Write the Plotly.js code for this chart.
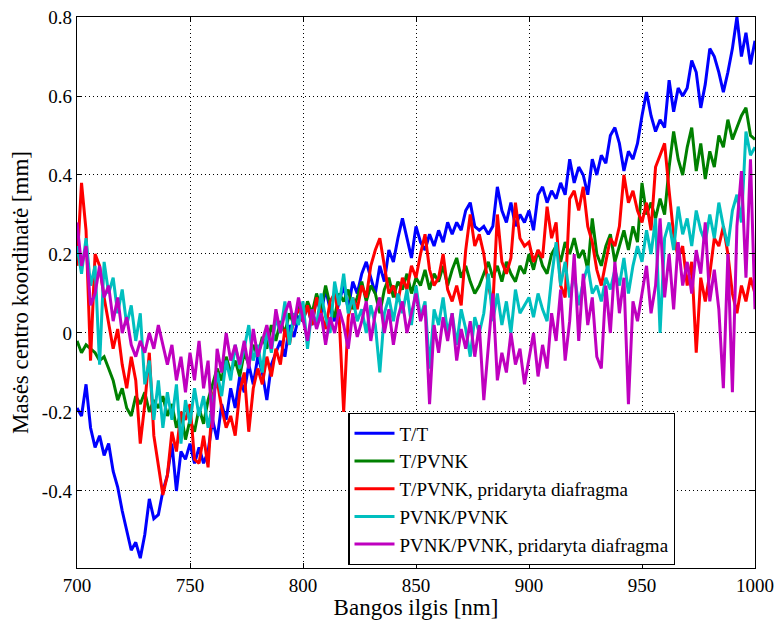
<!DOCTYPE html>
<html>
<head>
<meta charset="utf-8">
<script src="https://cdn.plot.ly/plotly-3.0.1.min.js"></script>
<style>html,body{margin:0;padding:0;background:#fff;}
#chart{width:778px;height:620px;}
</style>
</head>
<body>
<div id="chart"></div>
<script>
// Wavelength grid [nm] (2 nm sampling)
const wavelengthNm = [
  700,702,704,706,708,710,712,714,716,718,
  720,722,724,726,728,730,732,734,736,738,
  740,742,744,746,748,750,752,754,756,758,
  760,762,764,766,768,770,772,774,776,778,
  780,782,784,786,788,790,792,794,796,798,
  800,802,804,806,808,810,812,814,816,818,
  820,822,824,826,828,830,832,834,836,838,
  840,842,844,846,848,850,852,854,856,858,
  860,862,864,866,868,870,872,874,876,878,
  880,882,884,886,888,890,892,894,896,898,
  900,902,904,906,908,910,912,914,916,918,
  920,922,924,926,928,930,932,934,936,938,
  940,942,944,946,948,950,952,954,956,958,
  960,962,964,966,968,970,972,974,976,978,
  980,982,984,986,988,990,992,994,996,998,
  1000
];

// T/T
const seriesTT = [
  -0.19,-0.21,-0.13,-0.24,-0.29,-0.26,-0.31,-0.28,-0.35,-0.39,
  -0.45,-0.50,-0.55,-0.53,-0.57,-0.51,-0.42,-0.47,-0.46,-0.40,
  -0.36,-0.28,-0.40,-0.30,-0.32,-0.28,-0.33,-0.29,-0.33,-0.30,
  -0.22,-0.27,-0.18,-0.22,-0.14,-0.19,-0.11,-0.15,-0.08,-0.13,
  -0.06,-0.10,-0.17,-0.08,-0.05,-0.02,-0.06,0.02,-0.01,0.04,
  0.03,0.07,0.02,0.09,0.05,0.11,0.06,0.03,0.08,0.12,
  0.06,0.13,0.10,0.15,0.18,0.14,0.10,0.17,0.13,0.21,
  0.18,0.24,0.29,0.24,0.19,0.27,0.23,0.21,0.25,0.22,
  0.26,0.23,0.28,0.25,0.28,0.26,0.31,0.33,0.27,0.26,
  0.27,0.25,0.27,0.37,0.31,0.28,0.33,0.27,0.30,0.28,
  0.31,0.26,0.35,0.37,0.33,0.36,0.34,0.38,0.35,0.44,
  0.38,0.42,0.40,0.35,0.44,0.40,0.45,0.43,0.50,0.52,
  0.48,0.41,0.46,0.44,0.48,0.55,0.61,0.55,0.51,0.54,
  0.52,0.64,0.56,0.62,0.60,0.62,0.69,0.66,0.57,0.63,
  0.72,0.70,0.66,0.61,0.66,0.72,0.80,0.70,0.76,0.68,
  0.74
];

// T/PVNK
const seriesTPVNK = [
  -0.02,-0.05,-0.03,-0.04,-0.05,-0.07,-0.06,-0.09,-0.12,-0.17,
  -0.14,-0.19,-0.21,-0.16,-0.18,-0.15,-0.20,-0.17,-0.19,-0.16,
  -0.21,-0.18,-0.24,-0.20,-0.27,-0.22,-0.25,-0.19,-0.23,-0.17,
  -0.13,-0.09,-0.12,-0.06,-0.10,-0.07,-0.11,-0.05,-0.08,-0.03,
  -0.06,-0.01,-0.04,0.02,-0.02,0.03,0.00,0.05,0.02,0.07,
  0.03,0.08,0.05,0.10,0.06,0.12,0.07,0.04,0.10,0.08,
  0.11,0.06,0.09,0.13,0.08,0.12,0.10,0.05,0.11,0.14,
  0.09,0.13,0.11,0.15,0.10,0.14,0.12,0.16,0.11,0.15,
  0.13,0.17,0.12,0.16,0.19,0.14,0.17,0.13,0.10,0.12,
  0.15,0.18,0.14,0.17,0.13,0.18,0.15,0.13,0.17,0.15,
  0.20,0.16,0.21,0.17,0.15,0.20,0.22,0.18,0.23,0.20,
  0.24,0.19,0.21,0.16,0.29,0.20,0.17,0.22,0.25,0.18,
  0.22,0.26,0.21,0.27,0.23,0.38,0.30,0.33,0.29,0.34,
  0.30,0.42,0.51,0.44,0.40,0.47,0.52,0.41,0.48,0.39,
  0.46,0.42,0.50,0.47,0.54,0.49,0.52,0.55,0.57,0.50,
  0.49
];

// T/PVNK, pridaryta diafragma
const seriesTPVNKd = [
  0.17,0.38,0.26,-0.07,0.20,0.17,0.09,0.03,-0.04,0.01,
  -0.08,-0.14,-0.06,-0.12,-0.28,-0.18,-0.05,-0.26,-0.33,-0.41,
  -0.36,-0.25,-0.30,-0.20,-0.22,-0.18,-0.32,-0.33,-0.26,-0.34,
  -0.16,-0.12,-0.19,-0.24,-0.21,-0.26,-0.15,-0.10,-0.25,-0.14,
  -0.09,-0.13,-0.06,-0.11,-0.04,-0.08,0.01,-0.03,0.04,0.06,
  0.03,0.07,0.02,0.09,0.05,0.01,0.08,0.10,0.04,-0.20,
  0.04,0.09,0.06,0.12,0.09,0.17,0.21,0.24,0.17,0.10,
  0.12,0.08,0.14,0.11,0.17,0.14,0.20,0.25,0.16,0.12,
  0.14,0.20,0.11,0.08,0.12,0.07,0.21,0.30,0.22,0.25,
  0.20,0.12,0.07,0.30,0.18,0.15,0.19,0.33,0.24,0.22,
  0.23,0.18,0.21,0.19,0.32,0.24,0.28,0.12,0.09,0.34,
  0.36,0.31,0.37,0.27,0.23,0.16,0.12,0.18,0.24,0.22,
  0.27,0.40,0.33,0.36,0.31,0.28,0.33,0.26,0.42,0.45,
  0.48,0.36,0.25,0.19,0.22,0.12,0.18,-0.05,0.14,0.08,
  0.15,0.24,0.22,0.27,0.20,0.10,0.05,0.12,0.08,0.14,
  0.10
];

// PVNK/PVNK
const seriesPP = [
  0.22,0.15,0.24,0.12,0.17,-0.08,0.18,0.10,0.14,0.05,
  0.11,0.02,0.07,-0.02,0.05,-0.13,-0.07,-0.22,-0.12,-0.24,
  -0.15,-0.22,-0.13,-0.28,-0.17,-0.23,-0.14,-0.21,-0.16,-0.24,
  -0.18,-0.10,-0.16,-0.07,-0.12,-0.03,-0.09,-0.04,0.02,-0.07,
  -0.03,-0.10,0.01,-0.05,0.04,0.00,0.08,-0.03,0.05,0.02,
  0.08,-0.04,0.06,0.02,0.10,0.04,0.00,0.13,0.07,0.15,
  0.05,0.09,0.03,0.06,0.00,0.07,0.02,-0.10,0.05,0.09,
  0.03,0.10,0.05,0.11,0.02,0.12,0.04,0.08,-0.09,0.06,
  0.02,0.09,0.00,0.05,-0.03,0.06,0.01,-0.06,0.04,0.00,
  0.05,0.15,0.03,0.10,0.02,0.08,0.00,0.11,0.05,0.07,
  0.09,0.04,0.10,0.06,0.03,0.14,0.23,0.12,0.18,0.09,
  0.15,0.07,0.13,0.17,0.10,0.12,0.08,0.14,0.11,0.16,
  0.12,0.19,0.10,0.17,0.22,0.18,0.26,0.20,0.29,0.00,
  0.24,0.28,0.21,0.32,0.25,0.29,0.22,0.31,0.26,0.23,
  0.30,0.24,0.33,0.27,0.22,0.31,0.35,0.28,0.51,0.45,
  0.47
];

// PVNK/PVNK, pridaryta diafragma
const seriesPPd = [
  0.28,0.17,0.22,0.07,0.10,0.17,0.09,0.12,0.03,0.09,
  0.00,0.04,-0.03,-0.06,-0.02,-0.05,0.00,-0.04,0.02,-0.03,
  -0.08,-0.03,-0.12,-0.06,-0.15,-0.05,-0.12,-0.02,-0.14,-0.07,
  -0.24,-0.04,-0.10,0.00,-0.07,-0.03,-0.08,-0.02,-0.09,0.01,
  -0.06,-0.02,0.02,-0.04,0.06,0.00,0.05,0.08,0.02,0.09,
  0.03,-0.02,0.06,0.01,0.05,-0.03,0.04,0.00,0.06,0.02,
  -0.04,0.05,-0.01,0.03,0.08,-0.02,0.05,0.09,0.00,0.06,
  -0.03,0.04,0.08,0.00,0.05,0.10,0.03,0.07,-0.18,0.02,
  -0.05,0.04,-0.02,0.05,-0.07,0.01,-0.04,0.03,-0.06,0.02,
  -0.17,-0.03,0.10,-0.12,-0.05,-0.10,0.00,-0.08,-0.04,-0.13,
  -0.06,0.00,-0.11,-0.03,-0.09,0.05,-0.02,0.11,-0.07,0.03,
  0.20,-0.02,0.15,0.02,0.09,-0.06,-0.09,0.12,0.00,0.18,
  0.05,0.14,-0.18,0.08,0.03,0.10,0.17,0.05,0.12,0.29,
  0.09,0.20,0.06,0.23,0.12,0.18,0.10,0.21,0.15,0.28,
  0.08,0.16,0.06,-0.14,0.20,-0.15,0.27,0.41,0.14,0.44,
  0.06
];

const seriesNames = ["T/T", "T/PVNK", "T/PVNK, pridaryta diafragma", "PVNK/PVNK", "PVNK/PVNK, pridaryta diafragma"];
const seriesColors = ["#0000ff", "#008000", "#ff0000", "#00bfbf", "#bf00bf"];
const seriesValues = [seriesTT, seriesTPVNK, seriesTPVNKd, seriesPP, seriesPPd];

const xTickVals = [700, 750, 800, 850, 900, 950, 1000];
const yTickVals = [-0.4, -0.2, 0, 0.2, 0.4, 0.6, 0.8];
const yTickText = ["-0.4", "-0.2", "0", "0.2", "0.4", "0.6", "0.8"];

const SERIF = "Liberation Serif";

const traces = seriesValues.map((vals, i) => ({
  type: "scatter",
  mode: "lines",
  x: wavelengthNm,
  y: vals,
  name: seriesNames[i],
  line: { color: seriesColors[i], width: 3 }
}));

function axisBase() {
  return {
    showline: true,
    linecolor: "#000",
    linewidth: 1.3,
    mirror: "ticks",
    ticks: "inside",
    ticklen: 5,
    tickcolor: "#000",
    showgrid: true,
    gridcolor: "#000",
    griddash: "1px,3px",
    gridwidth: 1,
    zeroline: false,
    automargin: false
  };
}

const xaxis = axisBase();
xaxis.range = [700, 1000];
xaxis.tickvals = xTickVals;
xaxis.title = { text: "Bangos ilgis [nm]", standoff: 8 };

const yaxis = axisBase();
yaxis.range = [-0.595, 0.8];
yaxis.tickvals = yTickVals;
yaxis.ticktext = yTickText;
yaxis.title = { text: "Masės centro koordinatė [mm]", standoff: 6 };

const layout = {
  width: 778,
  height: 620,
  margin: { l: 77, r: 23, t: 17, b: 52, pad: 0 },
  paper_bgcolor: "#fff",
  plot_bgcolor: "#fff",
  font: { family: SERIF, size: 19 },
  showlegend: true,
  legend: {
    x: 0.400, y: 0.281, xanchor: "left", yanchor: "top",
    bgcolor: "#fff", bordercolor: "#000", borderwidth: 1.3,
    itemwidth: 40,
    tracegroupgap: 0
  },
  xaxis: xaxis,
  yaxis: yaxis
};

Plotly.newPlot("chart", traces, layout, { staticPlot: true }).then(() => {
  document.querySelectorAll("#chart text").forEach(t => { t.style.fill = "#000"; });
});
</script>
</body>
</html>
